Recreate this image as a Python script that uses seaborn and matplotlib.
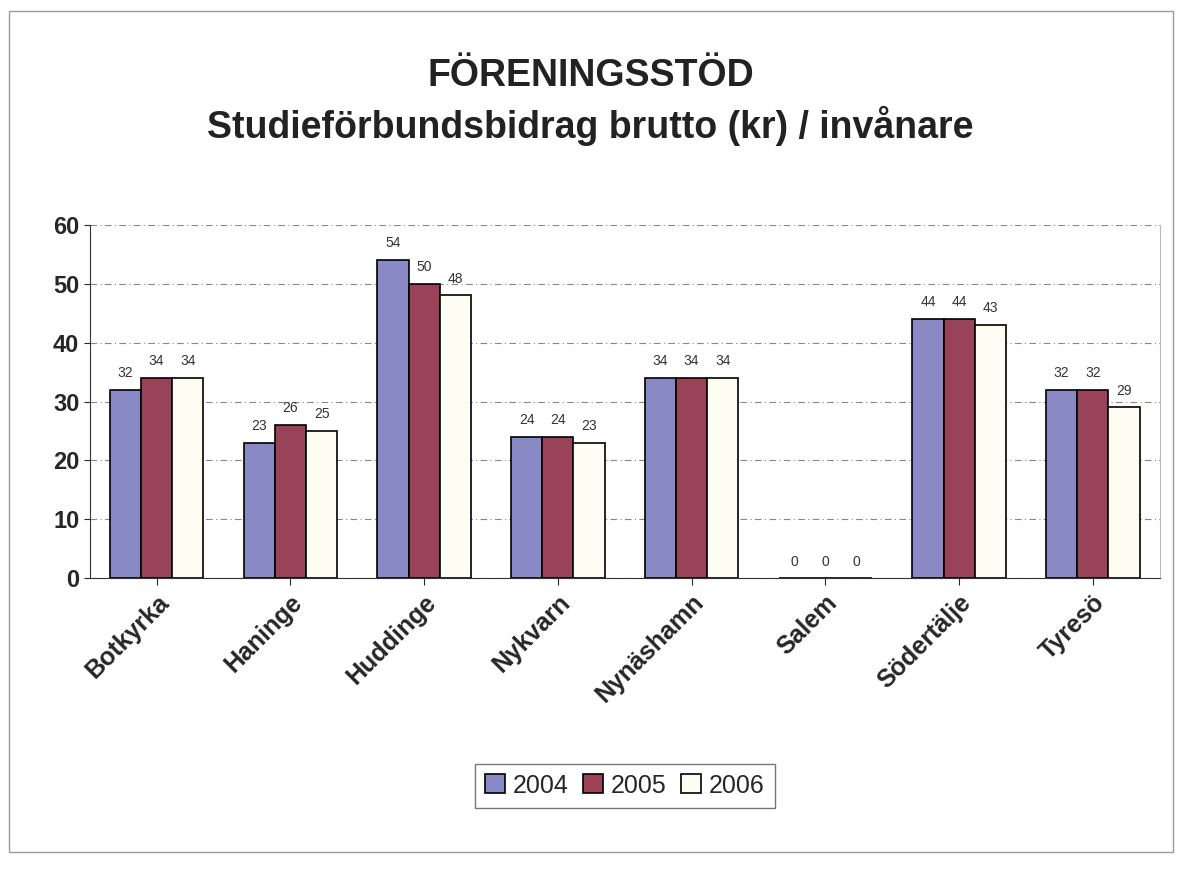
import matplotlib.pyplot as plt
import matplotlib.patches as mpatches
import pandas as pd
import seaborn as sns

municipalities = ["Botkyrka", "Haninge", "Huddinge", "Nykvarn", "Nynäshamn", "Salem", "Södertälje", "Tyresö"]
years = ["2004", "2005", "2006"]
values_2004 = [32, 23, 54, 24, 34, 0, 44, 32]
values_2005 = [34, 26, 50, 24, 34, 0, 44, 32]
values_2006 = [34, 25, 48, 23, 34, 0, 43, 29]
year_colors = ["#7f7fd0", "#a93350", "#fffff2"]

df = pd.DataFrame({
    "kommun": municipalities * 3,
    "year": [y for y in years for _ in municipalities],
    "value": values_2004 + values_2005 + values_2006,
})

sns.set_style("white")
plt.rcParams["font.family"] = ["Liberation Sans", "DejaVu Sans"]

fig = plt.figure(figsize=(11.81, 8.71), dpi=100)
ax = fig.add_axes([0.076, 0.336, 0.906, 0.406])

sns.barplot(
    data=df, x="kommun", y="value", hue="year",
    palette=year_colors, width=0.7, gap=0,
    edgecolor="black", linewidth=1.2, ax=ax,
)

for container in ax.containers:
    ax.bar_label(container, fmt="%d", padding=7, fontsize=10, color="#333333")

ax.set_ylim(0, 60)
ax.set_yticks(range(0, 61, 10))
ax.yaxis.grid(True, linestyle=(0, (6, 3, 1, 3)), color="#888888", linewidth=0.8)
ax.set_axisbelow(True)
ax.set_xlabel("")
ax.set_ylabel("")
ax.tick_params(axis="y", labelsize=17, length=4, left=True)
ax.tick_params(axis="x", labelsize=18, length=5, bottom=True)
for lbl in ax.get_yticklabels():
    lbl.set_fontweight("bold")
plt.setp(ax.get_xticklabels(), rotation=45, ha="right", rotation_mode="anchor", fontweight="bold")

ax.spines["top"].set_visible(False)
ax.spines["right"].set_color("#bbbbbb")
ax.spines["left"].set_color("#333333")
ax.spines["bottom"].set_color("#333333")

ax.legend(
    loc="center", bbox_to_anchor=(0.5, -0.586), ncol=3, fontsize=18,
    frameon=True, edgecolor="#555555", fancybox=False,
    handlelength=0.8, handleheight=0.8, handletextpad=0.3, columnspacing=0.6,
    borderpad=0.4,
)

fig.text(0.5, 0.913, "FÖRENINGSSTÖD", ha="center", va="center", fontsize=27, fontweight="bold", color="#222222")
fig.text(0.5, 0.856, "Studieförbundsbidrag brutto (kr) / invånare", ha="center", va="center", fontsize=27, fontweight="bold", color="#222222")

fig.patches.append(mpatches.Rectangle(
    (0.008, 0.022), 0.985, 0.965, transform=fig.transFigure,
    fill=False, edgecolor="#999999", linewidth=1,
))

fig.savefig("out.png", dpi=100)
plt.close(fig)
